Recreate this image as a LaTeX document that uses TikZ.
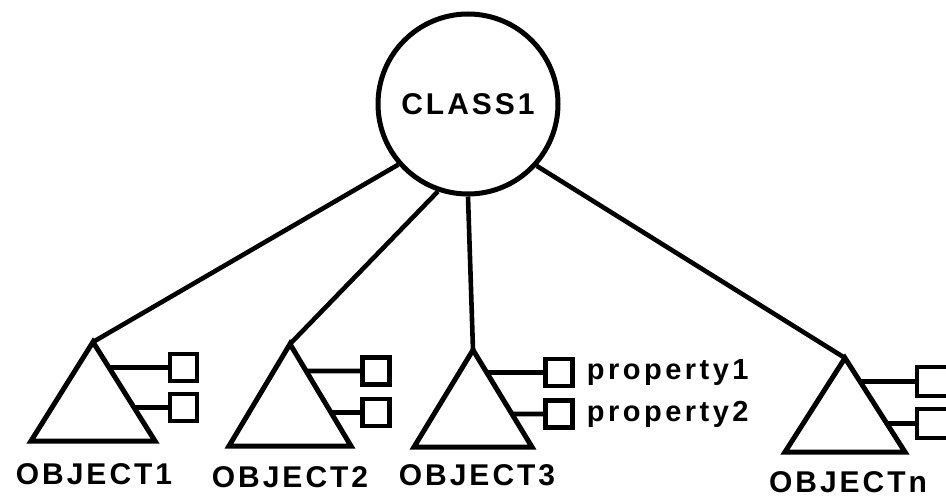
\documentclass[tikz,border=0pt]{standalone}
\usepackage{fontspec}
\setmainfont{Liberation Sans}
\newfontfamily\objfont{Liberation Sans}[LetterSpace=10]
\newfontfamily\propfont{Liberation Sans}[LetterSpace=12]
\usepackage{tikz}
\usetikzlibrary{calc,positioning}

\begin{document}
\begin{tikzpicture}[x=1pt,y=-1pt,line width=4.6pt,
  propbox/.style={draw,minimum size=27pt,inner sep=0pt,line width=4.2pt},
  objlabel/.style={inner sep=0pt,font=\objfont\bfseries\fontsize{30}{30}\selectfont},
  proplabel/.style={inner sep=0pt,font=\propfont\bfseries\fontsize{29}{29}\selectfont}]
\useasboundingbox (0,0) rectangle (946,497);
% class
\node[circle,draw,line width=5pt,minimum size=180pt,inner sep=0pt,objlabel] (C1) at (468,104) {CLASS1};
% objects
\coordinate (O1) at (93,342);
\coordinate (O2) at (290,344);
\coordinate (O3) at (473,350);
\coordinate (On) at (845,358);
\draw[line width=5pt] (O1) -- ++(-62,99) coordinate (L1) -- ++(124,0) coordinate (R1) -- cycle;
\draw[line width=5pt] (O2) -- ++(-61,102) coordinate (L2) -- ++(122,0) coordinate (R2) -- cycle;
\draw[line width=5pt] (O3) -- ++(-59,97) coordinate (L3) -- ++(118,0) coordinate (R3) -- cycle;
\draw[line width=5pt] (On) -- ++(-60,94) coordinate (Ln) -- ++(120,0) coordinate (Rn) -- cycle;
\draw (C1.221) -- (O1);
\draw (C1.251) -- (O2);
\draw (C1.270) -- (O3);
\draw (C1.318) -- (On);
% properties
\node[propbox] (P11) at (183.5,367.5) {};
\node[propbox] (P12) at (183.5,407.5) {};
\node[propbox] (P21) at (376,371) {};
\node[propbox] (P22) at (376,412.5) {};
\node[propbox] (P31) at (559,372.5) {};
\node[propbox] (P32) at (559,414) {};
\node[propbox,minimum width=32pt,minimum height=29pt] (Pn1) at (933,381.5) {};
\node[propbox,minimum width=32pt,minimum height=29pt] (Pn2) at (933,423.5) {};
\draw (intersection of O1--R1 and P11.west--P11.east) -- (P11);
\draw (intersection of O1--R1 and P12.west--P12.east) -- (P12);
\draw (intersection of O2--R2 and P21.west--P21.east) -- (P21);
\draw (intersection of O2--R2 and P22.west--P22.east) -- (P22);
\draw (intersection of O3--R3 and P31.west--P31.east) -- (P31);
\draw (intersection of O3--R3 and P32.west--P32.east) -- (P32);
\draw (intersection of On--Rn and Pn1.west--Pn1.east) -- (Pn1);
\draw (intersection of On--Rn and Pn2.west--Pn2.east) -- (Pn2);
\node[proplabel,right=10pt of P31] (T31) {property1};
\node[proplabel,right=10pt of P32] (T32) {property2};
% labels
\node[objlabel] (N1) at (94,474) {OBJECT1};
\node[objlabel] (N2) at (290,477) {OBJECT2};
\node[objlabel] (N3) at (477,475) {OBJECT3};
\node[objlabel] (Nn) at (848,482) {OBJECTn};
\end{tikzpicture}
\end{document}
